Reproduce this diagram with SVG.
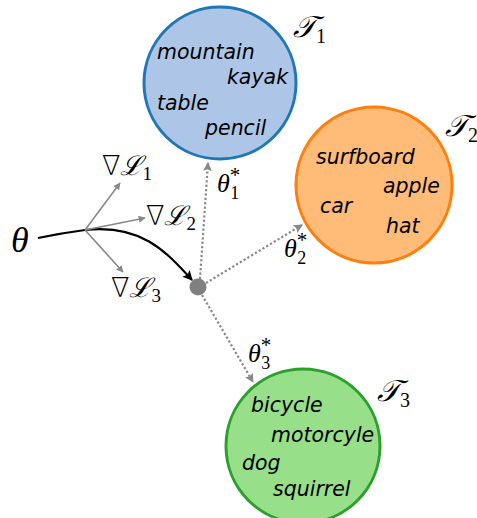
<svg xmlns="http://www.w3.org/2000/svg" width="477" height="518" viewBox="0 0 477 518">
<style>
.word{font-family:"DejaVu Sans",sans-serif;font-style:oblique;font-size:20.5px;fill:#000}
.math{font-family:"Liberation Serif","DejaVu Serif",serif;fill:#000}
.it{font-style:italic}
.nab{font-family:"DejaVu Sans",sans-serif;font-weight:200}
.cal{font-family:"DejaVu Serif","Liberation Serif",serif;font-style:italic}
.grad{stroke:#888;stroke-width:1.6;fill:none}
.dot{stroke:#888;stroke-width:2.2;stroke-dasharray:2.2 2.2;fill:none}
</style>
<defs>
<marker id="ag" viewBox="0 0 10 10" refX="9" refY="5" markerWidth="7" markerHeight="7" markerUnits="userSpaceOnUse" orient="auto"><path d="M0,0 L10,5 L0,10 Z" fill="#888"/></marker>
<marker id="ad" viewBox="0 0 10 10" refX="9" refY="5" markerWidth="9" markerHeight="9" markerUnits="userSpaceOnUse" orient="auto"><path d="M0,0 L10,5 L0,10 L2,5 Z" fill="#888"/></marker>
<marker id="ab" viewBox="0 0 10 10" refX="9" refY="5" markerWidth="10" markerHeight="10" markerUnits="userSpaceOnUse" orient="auto"><path d="M0,0 L10,5 L0,10 L2,5 Z" fill="#000"/></marker>
</defs>
<g id="task1">
<circle cx="220" cy="83" r="76" fill="#adc6e8" stroke="#1f77b4" stroke-width="3"/>
<text class="word" x="157" y="59">mountain</text>
<text class="word" x="227" y="84">kayak</text>
<text class="word" x="157" y="110">table</text>
<text class="word" x="205" y="135">pencil</text>
<text class="math" x="293" y="37" font-size="30"><tspan class="cal">𝒯</tspan><tspan font-size="20" dy="6">1</tspan></text>
</g>
<g id="task2">
<circle cx="374" cy="185" r="78" fill="#ffbb78" stroke="#ff7f0e" stroke-width="3"/>
<text class="word" x="316" y="164">surfboard</text>
<text class="word" x="383" y="193">apple</text>
<text class="word" x="320" y="213">car</text>
<text class="word" x="386" y="233">hat</text>
<text class="math" x="445" y="136" font-size="30"><tspan class="cal">𝒯</tspan><tspan font-size="20" dy="6">2</tspan></text>
</g>
<g id="task3">
<circle cx="303" cy="446" r="77" fill="#98df8a" stroke="#2ca02c" stroke-width="3"/>
<text class="word" x="251" y="412">bicycle</text>
<text class="word" x="271" y="442">motorcyle</text>
<text class="word" x="242" y="470">dog</text>
<text class="word" x="273" y="496">squirrel</text>
<text class="math" x="377" y="401" font-size="30"><tspan class="cal">𝒯</tspan><tspan font-size="20" dy="6">3</tspan></text>
</g>
<g id="theta">
<text class="math it" x="11" y="252" font-size="36">θ</text>
</g>
<g id="point">
<circle cx="198" cy="287" r="8.5" fill="#808080"/>
</g>
<g id="connectors">
<path d="M38,238 Q62,233 85,230 C140,224 165,250 192,280" stroke="#000" stroke-width="2.2" fill="none" marker-end="url(#ab)"/>
<path class="grad" d="M85,230 L120,183" marker-end="url(#ag)"/>
<path class="grad" d="M85,230 L145,218" marker-end="url(#ag)"/>
<path class="grad" d="M85,230 L123,272" marker-end="url(#ag)"/>
<path class="dot" d="M200,279 L208,163" marker-end="url(#ad)"/>
<path class="dot" d="M206,283 L302,225" marker-end="url(#ad)"/>
<path class="dot" d="M202,295 L253,382" marker-end="url(#ad)"/>
</g>
<g id="labels">
<text class="math" x="102" y="175" font-size="27"><tspan class="nab">∇</tspan><tspan class="cal">ℒ</tspan><tspan font-size="19" dy="5">1</tspan></text>
<text class="math" x="146" y="225" font-size="27"><tspan class="nab">∇</tspan><tspan class="cal">ℒ</tspan><tspan font-size="19" dy="5">2</tspan></text>
<text class="math" x="111" y="297" font-size="27"><tspan class="nab">∇</tspan><tspan class="cal">ℒ</tspan><tspan font-size="19" dy="5">3</tspan></text>
<text class="math" x="217" y="192" font-size="26"><tspan class="it">θ</tspan><tspan font-size="21" dy="-10">*</tspan><tspan font-size="18" dx="-10" dy="17">1</tspan></text>
<text class="math" x="284" y="257" font-size="26"><tspan class="it">θ</tspan><tspan font-size="21" dy="-10">*</tspan><tspan font-size="18" dx="-10" dy="17">2</tspan></text>
<text class="math" x="248" y="362" font-size="26"><tspan class="it">θ</tspan><tspan font-size="21" dy="-10">*</tspan><tspan font-size="18" dx="-10" dy="17">3</tspan></text>
</g>
</svg>
